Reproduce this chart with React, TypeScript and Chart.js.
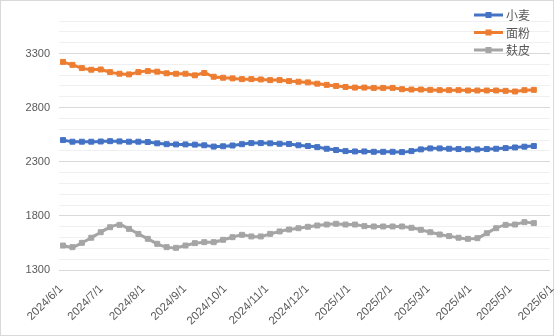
import React, { useEffect, useRef } from "react";
import { Chart, registerables } from "chart.js";

Chart.register(...registerables);

const dates = [
  "2024/6/4", "2024/6/11", "2024/6/18", "2024/6/25",
  "2024/7/2", "2024/7/9", "2024/7/16", "2024/7/23", "2024/7/30",
  "2024/8/6", "2024/8/13", "2024/8/20", "2024/8/27",
  "2024/9/3", "2024/9/10", "2024/9/17", "2024/9/24",
  "2024/10/1", "2024/10/8", "2024/10/15", "2024/10/22", "2024/10/29",
  "2024/11/5", "2024/11/12", "2024/11/19", "2024/11/26",
  "2024/12/3", "2024/12/10", "2024/12/17", "2024/12/24", "2024/12/31",
  "2025/1/7", "2025/1/14", "2025/1/21", "2025/1/28",
  "2025/2/4", "2025/2/11", "2025/2/18", "2025/2/25",
  "2025/3/4", "2025/3/11", "2025/3/18", "2025/3/25",
  "2025/4/1", "2025/4/8", "2025/4/15", "2025/4/22", "2025/4/29",
  "2025/5/6", "2025/5/13", "2025/5/20",
];

const monthTicks = [
  "2024/6/1", "2024/7/1", "2024/8/1", "2024/9/1", "2024/10/1", "2024/11/1",
  "2024/12/1", "2025/1/1", "2025/2/1", "2025/3/1", "2025/4/1", "2025/5/1", "2025/6/1",
];

const wheat = [
  2500, 2485, 2485, 2485, 2487, 2490, 2488, 2485, 2485, 2482,
  2470, 2462, 2460, 2460, 2458, 2452, 2440, 2443, 2450, 2462,
  2472, 2472, 2470, 2466, 2464, 2452, 2445, 2435, 2420, 2408,
  2398, 2395, 2395, 2392, 2392, 2392, 2389, 2398, 2414, 2423,
  2423, 2420, 2417, 2415, 2414, 2417, 2420, 2426, 2432, 2439, 2445,
];

const flour = [
  3222, 3195, 3165, 3150, 3152, 3128, 3113, 3107, 3128, 3137,
  3132, 3117, 3113, 3113, 3098, 3120, 3085, 3076, 3070, 3063,
  3063, 3060, 3054, 3054, 3045, 3039, 3033, 3021, 3010, 3000,
  2991, 2985, 2985, 2982, 2982, 2982, 2970, 2967, 2967, 2964,
  2961, 2961, 2961, 2958, 2958, 2958, 2958, 2955, 2949, 2961, 2964,
];

const bran = [
  1526, 1511, 1551, 1598, 1649, 1695, 1717, 1680, 1634, 1588,
  1542, 1511, 1505, 1526, 1548, 1557, 1557, 1579, 1603, 1625,
  1610, 1610, 1634, 1656, 1674, 1686, 1699, 1711, 1720, 1727,
  1720, 1720, 1705, 1702, 1702, 1702, 1702, 1690, 1671, 1649,
  1628, 1613, 1598, 1588, 1594, 1640, 1686, 1717, 1720, 1742, 1733,
];

const seriesNames = ["小麦", "面粉", "麸皮"];
const seriesColors = ["#4472C4", "#ED7D31", "#A5A5A5"];

const Y_MIN = 1300;
const Y_MAX = 3600;
const Y_MAJOR = 500;
const Y_MINOR = 100;

function dayOffset(s: string): number {
  const [y, m, d] = s.split("/").map(Number);
  return Math.round((Date.UTC(y, m - 1, d) - Date.UTC(2024, 5, 1)) / 86400000);
}

const labelByDay = new Map<number, string>(monthTicks.map((s) => [dayOffset(s), s]));

const framePlugin = {
  id: "frame",
  beforeDraw(chart: any) {
    const ctx = chart.ctx;
    ctx.save();
    ctx.fillStyle = "#ffffff";
    ctx.fillRect(0, 0, chart.width, chart.height);
    ctx.strokeStyle = "#d9d9d9";
    ctx.lineWidth = 1;
    ctx.strokeRect(0.5, 0.5, chart.width - 2, chart.height - 1);
    ctx.restore();
  },
};

const cornerLegend = {
  id: "cornerLegend",
  afterDraw(chart: any) {
    const ctx = chart.ctx;
    const right = chart.chartArea.right;
    ctx.save();
    chart.data.datasets.forEach((ds: any, i: number) => {
      const y = 15 + i * 17.5;
      const x0 = right - 76;
      ctx.strokeStyle = ds.borderColor;
      ctx.lineWidth = 3;
      ctx.beginPath();
      ctx.moveTo(x0, y);
      ctx.lineTo(x0 + 29, y);
      ctx.stroke();
      ctx.fillStyle = ds.borderColor;
      ctx.fillRect(x0 + 11.5, y - 3, 6, 6);
      ctx.fillStyle = "#595959";
      ctx.font = "12px 'Noto Sans CJK SC'";
      ctx.textBaseline = "middle";
      ctx.textAlign = "left";
      ctx.fillText(ds.label, x0 + 32, y + 0.5);
    });
    ctx.restore();
  },
};

export default function App() {
  const ref = useRef<HTMLCanvasElement | null>(null);

  useEffect(() => {
    if (!ref.current) return;
    const xs = dates.map(dayOffset);
    const values = [wheat, flour, bran];
    const chart = new Chart(ref.current, {
      type: "line",
      data: {
        datasets: values.map((vals, k) => ({
          label: seriesNames[k],
          data: vals.map((v, i) => ({ x: xs[i], y: v })),
          borderColor: seriesColors[k],
          backgroundColor: seriesColors[k],
          borderWidth: 3,
          pointStyle: "rect",
          pointRadius: 3.5,
          pointBorderWidth: 1,
          pointBackgroundColor: seriesColors[k],
          pointBorderColor: seriesColors[k],
          tension: 0.3,
          fill: false,
        })),
      },
      options: {
        animation: false,
        responsive: false,
        events: [],
        layout: { padding: { left: 0, top: 21, right: 3, bottom: 0 } },
        plugins: { legend: { display: false }, tooltip: { enabled: false } },
        scales: {
          x: {
            type: "linear",
            min: dayOffset(monthTicks[0]),
            max: dayOffset(monthTicks[monthTicks.length - 1]),
            grid: { display: false, drawTicks: false },
            border: { display: false },
            afterBuildTicks: (scale: any) => {
              scale.ticks = monthTicks.map((s) => ({ value: dayOffset(s) }));
            },
            afterFit: (scale: any) => {
              scale.height = 66;
              scale.paddingLeft = 0;
              scale.paddingRight = 0;
            },
            ticks: {
              autoSkip: false,
              minRotation: 45,
              maxRotation: 45,
              padding: 12,
              labelOffset: 2,
              color: "#595959",
              font: { family: "'Liberation Sans', Arial, sans-serif", size: 11.5 },
              callback: (v: any) => labelByDay.get(Number(v)) ?? "",
            },
          },
          y: {
            min: Y_MIN,
            max: Y_MAX,
            grid: {
              drawTicks: false,
              lineWidth: 1,
              color: (c: any) =>
                (c.tick.value - Y_MIN) % Y_MAJOR === 0 ? "#d9d9d9" : "#f0f0f0",
            },
            border: { display: false },
            afterFit: (scale: any) => {
              scale.width = 59;
              scale.paddingTop = 0;
              scale.paddingBottom = 0;
            },
            ticks: {
              stepSize: Y_MINOR,
              autoSkip: false,
              padding: 9,
              color: "#595959",
              font: { family: "'Liberation Sans', Arial, sans-serif", size: 11 },
              callback: (v: any) =>
                (Number(v) - Y_MIN) % Y_MAJOR === 0 ? String(v) : "",
            },
          },
        },
      },
      plugins: [framePlugin, cornerLegend],
    });
    return () => chart.destroy();
  }, []);

  return (
    <div style={{ position: "fixed", left: 0, top: 0, width: 555, height: 336 }}>
      <canvas ref={ref} width={555} height={336} style={{ display: "block" }} />
    </div>
  );
}
